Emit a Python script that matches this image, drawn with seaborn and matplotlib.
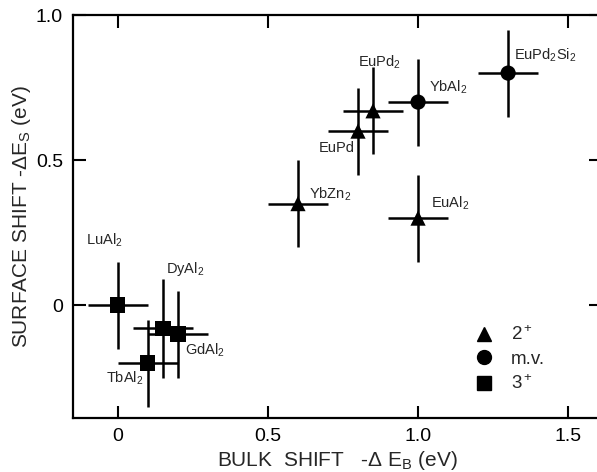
import numpy as np
import pandas as pd
import matplotlib
matplotlib.use("Agg")
import matplotlib.pyplot as plt
import seaborn as sns
from matplotlib.lines import Line2D

compounds = ["LuAl$_2$", "DyAl$_2$", "GdAl$_2$", "TbAl$_2$",
             "EuPd$_2$", "EuPd", "YbAl$_2$", "EuPd$_2$Si$_2$", "YbZn$_2$", "EuAl$_2$"]
bulk_shift = [0.0, 0.15, 0.20, 0.10, 0.85, 0.80, 1.00, 1.30, 0.60, 1.00]
surface_shift = [0.0, -0.08, -0.10, -0.20, 0.67, 0.60, 0.70, 0.80, 0.35, 0.30]
bulk_err = [0.10, 0.10, 0.10, 0.10, 0.10, 0.10, 0.10, 0.10, 0.10, 0.10]
surface_err = [0.15, 0.17, 0.15, 0.15, 0.15, 0.15, 0.15, 0.15, 0.15, 0.15]
valence = ["3$^+$", "3$^+$", "3$^+$", "3$^+$", "2$^+$", "2$^+$", "m.v.", "m.v.", "2$^+$", "2$^+$"]
# label offsets in points (dx, dy), alignment
label_offsets = [(-10, 47), (2, 43), (5, -12), (-3, -11), (-11, 35), (-28, -12), (8, 11), (4, 13), (8, 7), (9, 11)]
label_ha = ["center", "left", "left", "right", "left", "left", "left", "left", "left", "left"]

x_ticks = [0, 0.5, 1.0, 1.5]
x_ticklabels = ["0", "0.5", "1.0", "1.5"]
y_ticks = [0, 0.5, 1.0]
y_ticklabels = ["0", "0.5", "1.0"]
legend_order = ["2$^+$", "m.v.", "3$^+$"]

df = pd.DataFrame({"bulk": bulk_shift, "surface": surface_shift,
                   "xerr": bulk_err, "yerr": surface_err,
                   "valence": valence, "name": compounds})

sns.set_theme(style="ticks")
plt.rcParams["font.family"] = ["Liberation Sans", "DejaVu Sans"]
plt.rcParams["mathtext.fontset"] = "custom"
plt.rcParams["mathtext.rm"] = "Liberation Sans"
plt.rcParams["mathtext.it"] = "Liberation Sans"

fig = plt.figure(figsize=(5.97, 4.72), dpi=100)
ax = fig.add_axes([0.122, 0.114, 0.885, 0.854])

ax.errorbar(df["bulk"], df["surface"], xerr=df["xerr"], yerr=df["yerr"],
            fmt="none", ecolor="black", elinewidth=1.8, capsize=0, zorder=2)

markers = {"2$^+$": "^", "m.v.": "o", "3$^+$": "s"}
sns.scatterplot(data=df, x="bulk", y="surface", style="valence", markers=markers,
                style_order=legend_order, color="black", s=120, edgecolor="black",
                linewidth=0, legend=False, ax=ax, zorder=3)

for i, name in enumerate(compounds):
    ax.annotate(name, (bulk_shift[i], surface_shift[i]), xytext=label_offsets[i],
                textcoords="offset points", ha=label_ha[i], va="center", fontsize=10.5)

handles = [Line2D([], [], marker=markers[k], color="black", linestyle="none",
                  markersize=10) for k in legend_order]
ax.legend(handles, legend_order, loc="lower right", bbox_to_anchor=(0.925, 0.02),
          frameon=False, fontsize=13.5, handletextpad=0.9, labelspacing=0.35,
          handlelength=1.0)

ax.set_xlim(-0.15, 1.61)
ax.set_ylim(-0.39, 1.0)
ax.set_xticks(x_ticks)
ax.set_xticklabels(x_ticklabels)
ax.set_yticks(y_ticks)
ax.set_yticklabels(y_ticklabels)
ax.tick_params(direction="in", length=9, width=1.5, labelsize=14, top=True, right=True,
               pad=7, color="black", labelcolor="black")
for sp in ax.spines.values():
    sp.set_linewidth(1.6)
    sp.set_color("black")

ax.set_xlabel("BULK  SHIFT   -$\\Delta$ E$_B$ (eV)", fontsize=15, labelpad=3)
ax.set_ylabel("SURFACE SHIFT -$\\Delta$E$_S$ (eV)", fontsize=15, labelpad=2)

fig.savefig("out.png", dpi=100)
